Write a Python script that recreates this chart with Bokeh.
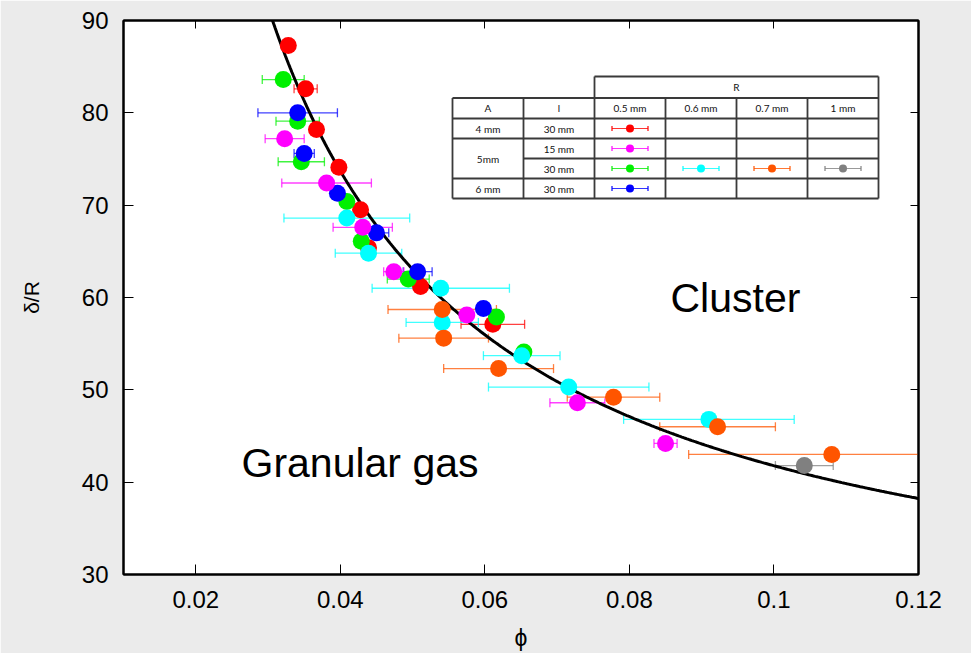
from bokeh.plotting import figure
from bokeh.models import (ColumnDataSource, Whisker, TeeHead, Label, LinearAxis,
                          FixedTicker, Range1d)
from bokeh.embed import file_html
from bokeh.resources import INLINE
from bokeh.core.properties import value
import numpy as np

# ---------------- data ----------------
x_ticks = [0.02, 0.04, 0.06, 0.08, 0.1, 0.12]
x_tick_labels = ["0.02", "0.04", "0.06", "0.08", "0.1", "0.12"]
y_ticks = [30, 40, 50, 60, 70, 80, 90]

red_phi = [0.0328, 0.0352, 0.0367, 0.0398, 0.0428, 0.0439, 0.0511, 0.0611]
red_val = [87.3, 82.6, 78.2, 74.1, 69.5, 65.4, 61.2, 57.1]
red_err = [0.0, 0.0016, 0.0, 0.0, 0.0, 0.0, 0.0, 0.0044]

green_phi = [0.0321, 0.0341, 0.0346, 0.0409, 0.0429, 0.0494, 0.0616, 0.0654]
green_val = [83.6, 79.1, 74.7, 70.4, 66.1, 62.0, 57.9, 54.1]
green_err = [0.0029, 0.0030, 0.0032, 0.0, 0.0, 0.0029, 0.0, 0.0]

blue_phi = [0.0341, 0.0350, 0.0396, 0.0450, 0.0507, 0.0598]
blue_val = [80.0, 75.6, 71.3, 67.0, 62.8, 58.8]
blue_err = [0.0055, 0.0014, 0.0, 0.0017, 0.0020, 0.0]

cyan_phi = [0.0409, 0.0439, 0.0539, 0.0541, 0.0651, 0.0716, 0.0910]
cyan_val = [68.6, 64.8, 61.0, 57.3, 53.7, 50.3, 46.8]
cyan_err = [0.0087, 0.0046, 0.0095, 0.0050, 0.0053, 0.0111, 0.0118]

magenta_phi = [0.0323, 0.0381, 0.0431, 0.0474, 0.0575, 0.0728, 0.0850]
magenta_val = [77.2, 72.4, 67.6, 62.8, 58.1, 48.6, 44.2]
magenta_err = [0.0027, 0.0062, 0.0041, 0.0014, 0.0, 0.0038, 0.0016]

orange_phi = [0.0541, 0.0543, 0.0619, 0.0778, 0.0922, 0.1080]
orange_val = [58.7, 55.6, 52.3, 49.2, 46.0, 43.0]
orange_err = [0.0075, 0.0062, 0.0076, 0.0064, 0.0080, 0.0198]

grey_phi = [0.1042]
grey_val = [41.8]
grey_err = [0.0040]

# model curve delta/R = A/phi + C
curve_A = 2.128
curve_C = 20.5

# legend table texts
tab_R = "R"
tab_head = ["A", "l", "0.5 mm", "0.6 mm", "0.7 mm", "1 mm"]
tab_A = ["4 mm", "5mm", "6 mm"]
tab_l = ["30 mm", "15 mm", "30 mm", "30 mm"]

label_cluster = "Cluster"
label_gas = "Granular gas"
x_label = "ϕ"
y_label = "δ/R"

# ---------------- layout geometry ----------------
X0, X1, Y0, Y1 = 0.01, 0.12, 30, 90
PX0, PX1, PY0, PY1 = 123, 918, 20, 574   # frame in pixels


def dx(px):
    return X0 + (px - PX0) / (PX1 - PX0) * (X1 - X0)


def dy(py):
    return Y1 - (py - PY0) / (PY1 - PY0) * (Y1 - Y0)


p = figure(width=971, height=653, output_backend="svg", toolbar_location=None,
           x_range=Range1d(X0, X1), y_range=Range1d(Y0, Y1),
           min_border_left=PX0, min_border_right=971 - PX1,
           min_border_top=PY0, min_border_bottom=653 - PY1,
           background_fill_color="white", border_fill_color="#ebebeb")
p.grid.visible = False
p.outline_line_color = "black"
p.outline_line_width = 2

TICK_FONT = "Liberation Sans"

xa = p.xaxis[0]
xa.ticker = FixedTicker(ticks=x_ticks)
xa.major_label_overrides = {t: s for t, s in zip(x_ticks, x_tick_labels)}
ya = p.yaxis[0]
ya.ticker = FixedTicker(ticks=y_ticks)
for ax in (xa, ya):
    ax.major_tick_in = 10
    ax.major_tick_out = 0
    ax.minor_tick_line_color = None
    ax.axis_line_width = 2
    ax.axis_line_color = "black"
    ax.major_tick_line_color = "black"
    ax.major_label_text_font = TICK_FONT
    ax.major_label_text_font_size = "24px"
    ax.major_label_text_color = "black"
    ax.axis_label_text_font = TICK_FONT
    ax.axis_label_text_font_style = "normal"
    ax.axis_label_text_color = "black"
xa.major_label_standoff = 16
ya.major_label_standoff = 15
xa.axis_label = x_label
ya.axis_label = y_label
xa.axis_label_text_font_size = "23px"
ya.axis_label_text_font_size = "21px"
xa.axis_label_standoff = 14
ya.axis_label_standoff = 36

for loc, tks in (("above", x_ticks), ("right", y_ticks)):
    ax = LinearAxis(ticker=FixedTicker(ticks=tks), major_tick_in=8, major_tick_out=0,
                    minor_tick_line_color=None, axis_line_width=2,
                    major_label_text_font_size="0px", major_label_text_color=None,
                    major_label_standoff=0)
    p.add_layout(ax, loc)

# ---------------- curve ----------------
xc = np.linspace(0.028, 0.12, 400)
p.line(xc, curve_A / xc + curve_C, line_color="black", line_width=3)

# ---------------- data series ----------------
series = [
    (red_phi, red_val, red_err, "#ff0000"),
    (green_phi, green_val, green_err, "#00f000"),
    (blue_phi, blue_val, blue_err, "#0000ff"),
    (cyan_phi, cyan_val, cyan_err, "#00ffff"),
    (magenta_phi, magenta_val, magenta_err, "#ff00ff"),
    (orange_phi, orange_val, orange_err, "#ff5500"),
    (grey_phi, grey_val, grey_err, "#808080"),
]
for phi, val, err, col in series:
    ph = np.array(phi); v = np.array(val); e = np.array(err)
    m = e > 0
    if m.any():
        src = ColumnDataSource(dict(y=v[m], lo=ph[m] - e[m], hi=ph[m] + e[m]))
        w = Whisker(source=src, base="y", lower="lo", upper="hi", dimension="width",
                    line_color=col, line_alpha=0.75, line_width=1.3, level="underlay",
                    upper_head=TeeHead(size=9, line_color=col, line_alpha=0.75, line_width=1.3),
                    lower_head=TeeHead(size=9, line_color=col, line_alpha=0.75, line_width=1.3))
        p.add_layout(w)
for phi, val, err, col in series:
    p.scatter(phi, val, size=17, fill_color=col, line_color=None)

# ---------------- legend table ----------------
cols_px = [452, 523, 594, 665, 736, 807, 878]
rows_px = [97.5, 118, 138, 158, 178, 198]
r_top_px = 76
LC = "#3a3a3a"
x0s, y0s, x1s, y1s = [], [], [], []
# R header box
x0s += [dx(594)]; y0s += [dy(r_top_px)]; x1s += [dx(878)]; y1s += [dy(r_top_px)]
for cx in (594, 878):
    x0s.append(dx(cx)); y0s.append(dy(r_top_px)); x1s.append(dx(cx)); y1s.append(dy(rows_px[0]))
# horizontal lines
for i, ry in enumerate(rows_px):
    left = cols_px[1] if ry == 158 else cols_px[0]
    x0s.append(dx(left)); y0s.append(dy(ry)); x1s.append(dx(cols_px[-1])); y1s.append(dy(ry))
# vertical lines
for cx in cols_px:
    x0s.append(dx(cx)); y0s.append(dy(rows_px[0])); x1s.append(dx(cx)); y1s.append(dy(rows_px[-1]))
p.segment(x0s, y0s, x1s, y1s, line_color=LC, line_width=1.8)

col_c = [(cols_px[i] + cols_px[i + 1]) / 2 for i in range(6)]
row_c = [(rows_px[i] + rows_px[i + 1]) / 2 for i in range(5)]
tx, ty, tt = [], [], []
tx.append(dx((594 + 878) / 2)); ty.append(dy((r_top_px + rows_px[0]) / 2)); tt.append(tab_R)
for c, s in zip(col_c, tab_head):
    tx.append(dx(c)); ty.append(dy(row_c[0])); tt.append(s)
for ry, s in zip([row_c[1], (row_c[2] + row_c[3]) / 2, row_c[4]], tab_A):
    tx.append(dx(col_c[0])); ty.append(dy(ry)); tt.append(s)
for ry, s in zip(row_c[1:], tab_l):
    tx.append(dx(col_c[1])); ty.append(dy(ry)); tt.append(s)
p.text(tx, ty, text=tt, text_font=value("Lato"), text_font_size=value("10px"),
       text_align="center", text_baseline="middle", text_color="#111111")

# legend markers: (column, row, colour)
leg = [(2, 1, "#ff0000"), (2, 2, "#ff00ff"), (2, 3, "#00f000"), (3, 3, "#00ffff"),
       (4, 3, "#ff5500"), (5, 3, "#808080"), (2, 4, "#0000ff")]
for ci, ri, col in leg:
    cx, cy = col_c[ci], row_c[ri]
    src = ColumnDataSource(dict(y=[dy(cy)], lo=[dx(cx - 18)], hi=[dx(cx + 18)]))
    p.add_layout(Whisker(source=src, base="y", lower="lo", upper="hi", dimension="width",
                         line_color=col, line_alpha=0.8, line_width=1.2,
                         upper_head=TeeHead(size=5, line_color=col, line_width=1.2),
                         lower_head=TeeHead(size=5, line_color=col, line_width=1.2)))
    p.scatter([dx(cx)], [dy(cy)], size=8, fill_color=col, line_color=None)

# ---------------- region labels ----------------
p.add_layout(Label(x=dx(670), y=dy(297), text=label_cluster, text_font="Liberation Sans",
                   text_font_size="41px", text_color="black", text_baseline="middle"))
p.add_layout(Label(x=dx(241), y=dy(462), text=label_gas, text_font="Liberation Sans",
                   text_font_size="41px", text_color="black", text_baseline="middle"))

open("out.html", "w").write(file_html(p, INLINE))
